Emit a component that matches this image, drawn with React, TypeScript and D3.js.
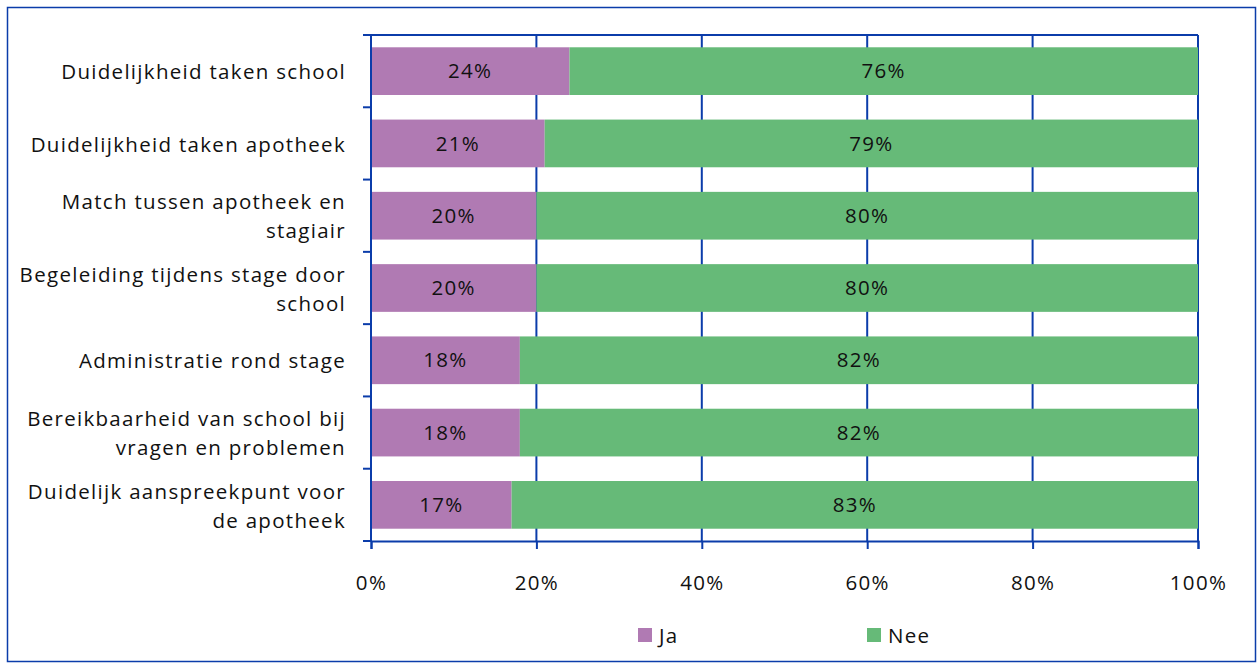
import { useEffect, useRef } from 'react';
import { axisBottom, scaleBand, scaleLinear, select } from 'd3';

// categories (each entry is the wrapped label lines)
const categories = [
  ['Duidelijkheid taken school'],
  ['Duidelijkheid taken apotheek'],
  ['Match tussen apotheek en', 'stagiair'],
  ['Begeleiding tijdens stage door', 'school'],
  ['Administratie rond stage'],
  ['Bereikbaarheid van school bij', 'vragen en problemen'],
  ['Duidelijk aanspreekpunt voor', 'de apotheek'],
];
const ja = [24, 21, 20, 20, 18, 18, 17];
const nee = [76, 79, 80, 80, 82, 82, 83];
const xTicks = [0, 20, 40, 60, 80, 100];
const seriesNames = ['Ja', 'Nee'];
const seriesColors = ['#B07AB3', '#66BA78'];

const FONT = '"Open Sans", Lato, sans-serif';
const FS = 20.5;
const LS = '1.3px';
const BLUE = '#0B3CAA';

export default function App() {
  const ref = useRef<SVGSVGElement>(null);

  useEffect(() => {
    const el = ref.current;
    if (!el) return;
    const svg = select(el);
    svg.selectAll('*').remove();

    const left = 371,
      right = 1198,
      top = 35,
      bottom = 541;

    // frame
    svg
      .append('rect')
      .attr('x', 7.5)
      .attr('y', 7.5)
      .attr('width', 1248)
      .attr('height', 654)
      .attr('fill', 'white')
      .attr('stroke', BLUE)
      .attr('stroke-width', 1.5);

    const x = scaleLinear().domain([0, 100]).range([left, right]);
    const y = scaleBand<number>()
      .domain(categories.map((_, i) => i))
      .range([top, bottom])
      .paddingInner(0.34)
      .paddingOuter(0.17);
    const step = (bottom - top) / categories.length;

    // vertical gridlines
    svg
      .append('g')
      .selectAll('line')
      .data(xTicks)
      .join('line')
      .attr('x1', (d) => x(d))
      .attr('x2', (d) => x(d))
      .attr('y1', top)
      .attr('y2', bottom)
      .attr('stroke', BLUE)
      .attr('stroke-width', 2);

    // bars
    const stacks = categories.map((_, i) => [
      { s: 0, x0: 0, x1: ja[i], v: ja[i] },
      { s: 1, x0: ja[i], x1: ja[i] + nee[i], v: nee[i] },
    ]);
    const rows = svg
      .append('g')
      .selectAll('g')
      .data(stacks)
      .join('g')
      .attr('transform', (_, i) => `translate(0,${y(i)})`);
    rows
      .selectAll('rect')
      .data((d) => d)
      .join('rect')
      .attr('x', (d) => x(d.x0))
      .attr('width', (d) => x(d.x1) - x(d.x0))
      .attr('height', y.bandwidth())
      .attr('fill', (d) => seriesColors[d.s]);
    rows
      .selectAll('text')
      .data((d) => d)
      .join('text')
      .attr('x', (d) => (x(d.x0) + x(d.x1)) / 2)
      .attr('y', y.bandwidth() / 2)
      .attr('dy', '0.35em')
      .attr('text-anchor', 'middle')
      .attr('font-family', FONT)
      .attr('font-size', FS)
      .attr('letter-spacing', LS)
      .attr('fill', '#111')
      .text((d) => `${d.v}%`);

    // left axis with tick marks at boundaries
    const g = svg.append('g');
    g.append('line')
      .attr('x1', left)
      .attr('x2', left)
      .attr('y1', top)
      .attr('y2', bottom)
      .attr('stroke', BLUE)
      .attr('stroke-width', 2);
    g.append('line')
      .attr('x1', left - 8)
      .attr('x2', right)
      .attr('y1', top)
      .attr('y2', top)
      .attr('stroke', BLUE)
      .attr('stroke-width', 2);
    g.selectAll('line.tick')
      .data(categories.map((_, i) => i + 1))
      .join('line')
      .attr('class', 'tick')
      .attr('x1', left - 8)
      .attr('x2', left)
      .attr('y1', (d) => top + d * step)
      .attr('y2', (d) => top + d * step)
      .attr('stroke', BLUE)
      .attr('stroke-width', 2);

    // category labels
    const labels = svg
      .append('g')
      .selectAll('text')
      .data(categories.map((lines, i) => ({ lines, i })))
      .join('text')
      .attr('font-family', FONT)
      .attr('font-size', FS)
      .attr('letter-spacing', LS)
      .attr('fill', '#111')
      .attr('text-anchor', 'end');
    labels
      .selectAll('tspan')
      .data((d) =>
        d.lines.map((t, j) => ({
          t,
          j,
          n: d.lines.length,
          c: (y(d.i) ?? 0) + y.bandwidth() / 2,
        }))
      )
      .join('tspan')
      .attr('x', left - 25)
      .attr('y', (d) => d.c + 1 + (d.j - (d.n - 1) / 2) * 29)
      .attr('dy', '0.35em')
      .text((d) => d.t);

    // bottom axis
    const ax = svg
      .append('g')
      .attr('transform', `translate(0,${bottom})`)
      .call(
        axisBottom(x)
          .tickValues(xTicks)
          .tickSize(8)
          .tickPadding(26)
          .tickFormat((d) => `${d}%`)
      );
    ax.select('.domain').attr('stroke', BLUE).attr('stroke-width', 2);
    ax.selectAll('.tick line').attr('stroke', BLUE).attr('stroke-width', 2);
    ax.selectAll('.tick text')
      .attr('font-family', FONT)
      .attr('font-size', FS)
      .attr('letter-spacing', LS)
      .attr('fill', '#111');

    // legend
    const legendX = [638, 867];
    const lg = svg
      .append('g')
      .selectAll('g')
      .data(seriesNames)
      .join('g')
      .attr('transform', (_, i) => `translate(${legendX[i]},628)`);
    lg.append('rect')
      .attr('width', 14)
      .attr('height', 14)
      .attr('fill', (_, i) => seriesColors[i]);
    lg.append('text')
      .attr('x', 21)
      .attr('y', 8)
      .attr('dy', '0.35em')
      .attr('font-family', FONT)
      .attr('font-size', FS)
      .attr('letter-spacing', LS)
      .attr('fill', '#111')
      .text((d) => d);
  }, []);

  return (
    <div style={{ position: 'absolute', left: 0, top: 0 }}>
      <svg ref={ref} width={1258} height={664} style={{ display: 'block' }} />
    </div>
  );
}
